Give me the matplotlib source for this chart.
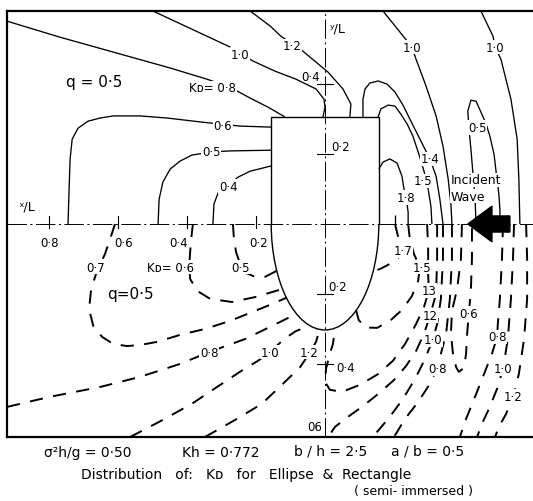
import matplotlib.pyplot as plt
from matplotlib.patches import Arc, Polygon

plt.rcParams["font.family"] = "DejaVu Sans"
plt.rcParams["lines.scale_dashes"] = False

# -------------------------------
# DATA  (x/L positive to the left, y/L positive upward)
# -------------------------------

# body: rectangle above, semi-ellipse below
half_b = 0.156
rect_top = 0.306
ell_depth = 0.303

# upper half - solid KD contours (rectangle)
up_10a_x = [0.499, 0.386, 0.275, 0.209, 0.145, 0.084, 0.026, 0.003, 0.0, 0.006]
up_10a_y = [0.609, 0.557, 0.506, 0.466, 0.437, 0.414, 0.386, 0.357, 0.334, 0.306]

up_12_x = [0.217, 0.159, 0.128, 0.064, -0.009, -0.052, -0.075, -0.072]
up_12_y = [0.609, 0.566, 0.537, 0.494, 0.434, 0.386, 0.343, 0.306]

up_08_x = [0.922, 0.768, 0.594, 0.449, 0.342, 0.275, 0.217, 0.165, 0.116]
up_08_y = [0.580, 0.534, 0.486, 0.446, 0.414, 0.391, 0.360, 0.334, 0.306]

up_06_x = [0.745, 0.742, 0.739, 0.733, 0.716, 0.687, 0.652, 0.614, 0.536, 0.458, 0.354, 0.246, 0.156]
up_06_y = [0.0, 0.100, 0.186, 0.243, 0.274, 0.294, 0.303, 0.309, 0.309, 0.303, 0.291, 0.280, 0.277]

up_05_x = [0.484, 0.481, 0.470, 0.449, 0.420, 0.386, 0.330, 0.275, 0.156]
up_05_y = [0.0, 0.071, 0.120, 0.157, 0.180, 0.197, 0.206, 0.209, 0.211]

up_04_x = [0.325, 0.322, 0.310, 0.281, 0.252, 0.217, 0.156]
up_04_y = [0.0, 0.057, 0.089, 0.111, 0.134, 0.151, 0.166]

up_14_x = [-0.110, -0.110, -0.116, -0.130, -0.154, -0.180, -0.203, -0.226, -0.246,
           -0.275, -0.304, -0.322, -0.333, -0.342]
up_14_y = [0.306, 0.357, 0.386, 0.403, 0.409, 0.400, 0.377, 0.340, 0.300,
           0.243, 0.186, 0.137, 0.071, 0.0]

up_15_x = [-0.154, -0.162, -0.183, -0.203, -0.220, -0.238, -0.255, -0.272, -0.287,
           -0.299, -0.307, -0.310]
up_15_y = [0.306, 0.329, 0.340, 0.337, 0.314, 0.286, 0.251, 0.200, 0.151,
           0.100, 0.051, 0.0]

up_18_x = [-0.156, -0.168, -0.188, -0.209, -0.223, -0.229, -0.235, -0.241, -0.241]
up_18_y = [0.157, 0.177, 0.186, 0.174, 0.137, 0.100, 0.077, 0.034, 0.0]

up_17_x = [-0.203, -0.203]
up_17_y = [0.026, 0.0]

up_10b_x = [-0.168, -0.217, -0.252, -0.264, -0.293, -0.322, -0.342, -0.357, -0.365, -0.368]
up_10b_y = [0.609, 0.549, 0.506, 0.471, 0.394, 0.309, 0.223, 0.129, 0.057, 0.0]

up_05b_x = [-0.438, -0.435, -0.429, -0.423, -0.417, -0.414, -0.423, -0.438, -0.452,
            -0.467, -0.478, -0.490, -0.496, -0.504, -0.507, -0.507]
up_05b_y = [0.0, 0.071, 0.143, 0.214, 0.277, 0.323, 0.354, 0.351, 0.320,
            0.286, 0.251, 0.200, 0.149, 0.086, 0.043, 0.0]

up_10c_x = [-0.452, -0.487, -0.493, -0.510, -0.539, -0.557, -0.562, -0.565]
up_10c_y = [0.609, 0.537, 0.506, 0.471, 0.357, 0.243, 0.129, 0.0]

# lower half - dashed KD contours (ellipse)
lo_05_x = [0.267, 0.264, 0.258, 0.246, 0.229, 0.203, 0.174, 0.140]
lo_05_y = [0.0, -0.043, -0.080, -0.114, -0.140, -0.151, -0.151, -0.134]

lo_06_x = [0.383, 0.388, 0.391, 0.394, 0.391, 0.371, 0.333, 0.270, 0.203, 0.124]
lo_06_y = [0.0, -0.043, -0.080, -0.123, -0.157, -0.191, -0.214, -0.223, -0.209, -0.186]

lo_07_x = [0.609, 0.623, 0.638, 0.661, 0.678, 0.684, 0.672, 0.646, 0.614, 0.574,
           0.536, 0.487, 0.420, 0.348, 0.275, 0.217, 0.159, 0.112]
lo_07_y = [0.0, -0.043, -0.086, -0.134, -0.186, -0.243, -0.291, -0.323, -0.343, -0.349,
           -0.346, -0.337, -0.317, -0.300, -0.277, -0.254, -0.231, -0.211]

lo_08_x = [0.922, 0.797, 0.652, 0.536, 0.420, 0.336, 0.232, 0.159, 0.083]
lo_08_y = [-0.523, -0.494, -0.466, -0.437, -0.400, -0.366, -0.329, -0.294, -0.257]

lo_10_x = [0.565, 0.470, 0.386, 0.313, 0.238, 0.194, 0.159, 0.119, 0.084, 0.044]
lo_10_y = [-0.609, -0.560, -0.514, -0.466, -0.417, -0.391, -0.366, -0.329, -0.306, -0.291]

lo_12_x = [0.348, 0.255, 0.183, 0.119, 0.072, 0.046, 0.026, 0.016]
lo_12_y = [-0.609, -0.557, -0.514, -0.454, -0.409, -0.371, -0.337, -0.302]

lo_17_x = [-0.203, -0.212, -0.226, -0.212, -0.188, -0.159, -0.140]
lo_17_y = [0.0, -0.037, -0.071, -0.097, -0.114, -0.129, -0.134]

lo_15_x = [-0.241, -0.246, -0.258, -0.275, -0.270, -0.252, -0.223, -0.188, -0.151,
           -0.118, -0.098, -0.090]
lo_15_y = [0.0, -0.043, -0.086, -0.123, -0.163, -0.206, -0.246, -0.277, -0.297,
           -0.296, -0.275, -0.247]

lo_13_x = [-0.296, -0.299, -0.299, -0.301, -0.287, -0.264, -0.232, -0.197, -0.154,
           -0.101, -0.049, -0.014, 0.0, -0.003, -0.014, -0.023, -0.029]
lo_13_y = [0.0, -0.071, -0.143, -0.191, -0.237, -0.286, -0.343, -0.391, -0.429,
           -0.460, -0.480, -0.474, -0.451, -0.414, -0.371, -0.343, -0.298]

lo_12r_x = [-0.325, -0.325, -0.322, -0.304, -0.287, -0.264, -0.235, -0.200, -0.154,
            -0.107, -0.067, -0.029, -0.009]
lo_12r_y = [0.0, -0.100, -0.200, -0.263, -0.314, -0.363, -0.406, -0.446, -0.486,
            -0.523, -0.551, -0.580, -0.609]

lo_10r_x = [-0.342, -0.342, -0.336, -0.325, -0.313, -0.290, -0.261, -0.226, -0.188,
            -0.154, -0.136]
lo_10r_y = [0.0, -0.100, -0.214, -0.286, -0.329, -0.386, -0.443, -0.500, -0.551,
            -0.591, -0.609]

lo_08r_x = [-0.368, -0.368, -0.362, -0.351, -0.336, -0.325, -0.304, -0.270, -0.232, -0.200]
lo_08r_y = [0.0, -0.100, -0.214, -0.314, -0.371, -0.414, -0.457, -0.509, -0.557, -0.609]

lo_06r_x = [-0.397, -0.394, -0.383, -0.368, -0.365, -0.371, -0.380, -0.388, -0.403,
            -0.409, -0.412, -0.417, -0.423, -0.426, -0.426]
lo_06r_y = [0.0, -0.100, -0.186, -0.249, -0.314, -0.371, -0.409, -0.423, -0.411,
            -0.371, -0.314, -0.257, -0.186, -0.100, 0.0]

lo_08rr_x = [-0.516, -0.513, -0.507, -0.501, -0.499, -0.484, -0.461, -0.435, -0.409, -0.391]
lo_08rr_y = [0.0, -0.100, -0.214, -0.286, -0.323, -0.371, -0.429, -0.494, -0.557, -0.609]

lo_10rr_x = [-0.548, -0.545, -0.539, -0.530, -0.516, -0.499, -0.475, -0.455, -0.441]
lo_10rr_y = [0.0, -0.100, -0.214, -0.329, -0.414, -0.471, -0.529, -0.571, -0.609]

lo_12rr_x = [-0.583, -0.586, -0.586, -0.577, -0.562, -0.545, -0.525, -0.504, -0.493]
lo_12rr_y = [0.0, -0.100, -0.214, -0.329, -0.429, -0.494, -0.543, -0.580, -0.609]

# contour labels
label_text = ["1·0", "1·2", "Kᴅ= 0·8", "0·6", "0·5", "0·4", "1·4", "1·5", "1·8",
              "1·0", "0·5", "1·0",
              "0·5", "Kᴅ= 0·6", "0·7", "0·8", "1·0", "1·2", "1·7", "1·5", "13",
              "12", "1·0", "0·8", "0·6", "0·8", "1·0", "1·2", "06"]
label_x = [0.246, 0.096, 0.325, 0.296, 0.330, 0.281, -0.304, -0.284, -0.235,
           -0.252, -0.441, -0.493,
           0.246, 0.449, 0.665, 0.336, 0.159, 0.046, -0.226, -0.281, -0.301,
           -0.304, -0.313, -0.325, -0.417, -0.499, -0.516, -0.545, 0.029]
label_y = [0.486, 0.509, 0.389, 0.283, 0.206, 0.106, 0.186, 0.123, 0.077,
           0.506, 0.277, 0.506,
           -0.123, -0.123, -0.123, -0.366, -0.366, -0.366, -0.077, -0.123, -0.191,
           -0.263, -0.329, -0.414, -0.257, -0.323, -0.414, -0.494, -0.580]

# axis ticks
x_ticks = [0.8, 0.6, 0.4, 0.2]
x_tick_labels = ["0·8", "0·6", "0·4", "0·2"]
x_tick_label_pos = [0.800, 0.583, 0.426, 0.194]
y_ticks = [0.4, 0.2, -0.2, -0.4]
y_tick_labels = ["0·4", "0·2", "0·2", "0·4"]

# incident wave arrow (tip, head base, tail end)
arrow_tip = -0.414
arrow_head = -0.484
arrow_tail = -0.536

solid_lines = [(up_10a_x, up_10a_y), (up_12_x, up_12_y), (up_08_x, up_08_y),
               (up_06_x, up_06_y), (up_05_x, up_05_y), (up_04_x, up_04_y),
               (up_14_x, up_14_y), (up_15_x, up_15_y), (up_18_x, up_18_y),
               (up_17_x, up_17_y), (up_10b_x, up_10b_y), (up_05b_x, up_05b_y),
               (up_10c_x, up_10c_y)]
dashed_lines = [(lo_05_x, lo_05_y), (lo_06_x, lo_06_y), (lo_07_x, lo_07_y),
                (lo_08_x, lo_08_y), (lo_10_x, lo_10_y), (lo_12_x, lo_12_y),
                (lo_17_x, lo_17_y), (lo_15_x, lo_15_y), (lo_13_x, lo_13_y),
                (lo_12r_x, lo_12r_y), (lo_10r_x, lo_10r_y), (lo_08r_x, lo_08r_y),
                (lo_06r_x, lo_06r_y), (lo_08rr_x, lo_08rr_y), (lo_10rr_x, lo_10rr_y),
                (lo_12rr_x, lo_12rr_y)]

# -------------------------------
# FIGURE
# -------------------------------

fig = plt.figure(figsize=(5.33, 5.02), dpi=100)
ax = fig.add_axes([7 / 533, 64 / 502, 526 / 533, 426 / 502])
ax.set_xlim(0.922, -0.603)
ax.set_ylim(-0.609, 0.609)
ax.set_xticks([])
ax.set_yticks([])
for side in ["left", "top", "bottom"]:
    ax.spines[side].set_linewidth(1.6)
ax.spines["right"].set_visible(False)

# centre lines
ax.axhline(0, color="black", lw=0.7, ls=(0, (14, 2.5, 1.5, 2.5)), zorder=1)
ax.axvline(0, color="black", lw=0.7, ls=(0, (14, 2.5, 1.5, 2.5)), zorder=1)

for t in x_ticks:
    ax.plot([t, t], [-0.012, 0.022], color="black", lw=0.8)
for t in y_ticks:
    ax.plot([0.022, -0.022], [t, t], color="black", lw=0.8)

for lab, xp in zip(x_tick_labels, x_tick_label_pos):
    ax.text(xp, -0.052, lab, ha="center", va="center", fontsize=8.5)

ax.text(0.014, 0.423, y_tick_labels[0], ha="right", va="center", fontsize=8.5)
ax.text(-0.017, 0.223, y_tick_labels[1], ha="left", va="center", fontsize=8.5)
ax.text(-0.009, -0.18, y_tick_labels[2], ha="left", va="center", fontsize=8.5)
ax.text(-0.032, -0.409, y_tick_labels[3], ha="left", va="center", fontsize=8.5)

ax.text(0.864, 0.051, "ˣ/L", ha="center", va="center", fontsize=9)
ax.text(-0.038, 0.56, "ʸ/L", ha="center", va="center", fontsize=9)

# body outline
ax.plot([half_b, half_b, -half_b, -half_b], [0, rect_top, rect_top, 0],
        color="black", lw=1.0)
ax.add_patch(Arc((0, 0), 2 * half_b, 2 * ell_depth, theta1=180, theta2=360,
                 color="black", lw=1.0))

# contours
for xs, ys in solid_lines:
    ax.plot(xs, ys, color="black", lw=0.95, solid_capstyle="butt")
for xs, ys in dashed_lines:
    ax.plot(xs, ys, color="black", lw=1.4, ls=(0, (9.5, 7.5)))

for s, xp, yp in zip(label_text, label_x, label_y):
    ax.text(xp, yp, s, ha="center", va="center", fontsize=8.5, zorder=5,
            bbox=dict(boxstyle="square,pad=0.08", fc="white", ec="none"))

ax.text(0.670, 0.406, "q = 0·5", ha="center", va="center", fontsize=11)
ax.text(0.565, -0.200, "q=0·5", ha="center", va="center", fontsize=11)

# incident wave
ax.text(-0.365, 0.126, "Incident", ha="left", va="center", fontsize=9, zorder=5,
        bbox=dict(boxstyle="square,pad=0.05", fc="white", ec="none"))
ax.text(-0.365, 0.080, "Wave", ha="left", va="center", fontsize=9, zorder=5,
        bbox=dict(boxstyle="square,pad=0.05", fc="white", ec="none"))
ax.add_patch(Polygon([(arrow_tip, 0), (arrow_head, 0.051), (arrow_head, 0.023),
                      (arrow_tail, 0.023), (arrow_tail, -0.023),
                      (arrow_head, -0.023), (arrow_head, -0.051)],
                     closed=True, fc="black", ec="black", zorder=6))

# -------------------------------
# CAPTION
# -------------------------------

fig.text(0.165, 0.098, "σ²h/g = 0·50", ha="center", va="center", fontsize=10)
fig.text(0.415, 0.098, "Kh = 0·772", ha="center", va="center", fontsize=10)
fig.text(0.621, 0.100, "b / h = 2·5", ha="center", va="center", fontsize=10)
fig.text(0.803, 0.100, "a / b = 0·5", ha="center", va="center", fontsize=10)
fig.text(0.462, 0.054, "Distribution   of:   Kᴅ   for   Ellipse  &  Rectangle",
         ha="center", va="center", fontsize=10)
fig.text(0.775, 0.020, "( semi- immersed )", ha="center", va="center", fontsize=9)

fig.savefig("out.png", dpi=100)
